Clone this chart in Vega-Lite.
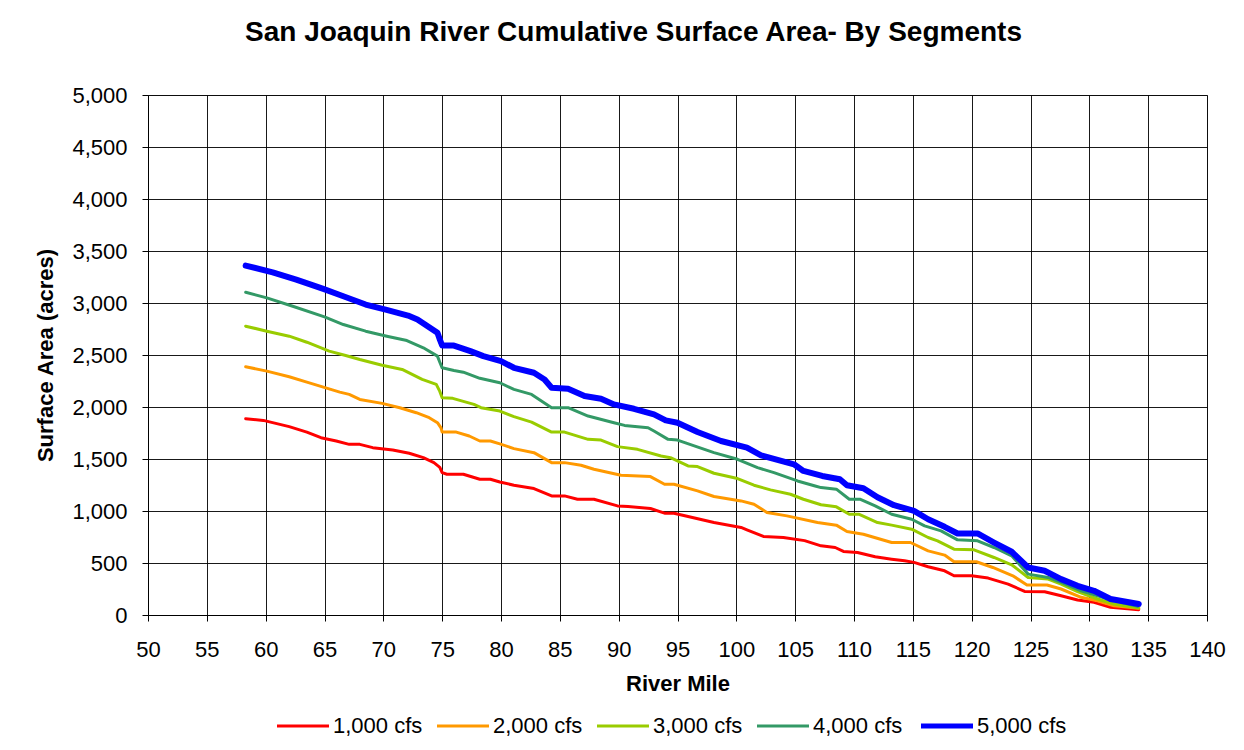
{
  "$schema": "https://vega.github.io/schema/vega-lite/v6.json",
  "width": 1059,
  "height": 520,
  "autosize": {"type": "none"},
  "padding": {"left": 148, "top": 95, "right": 37, "bottom": 135},
  "background": "white",
  "title": {
    "text": "San Joaquin River Cumulative Surface Area- By Segments",
    "font": "Liberation Sans",
    "fontSize": 28,
    "fontWeight": "bold",
    "color": "black",
    "anchor": "middle",
    "dx": -44,
    "baseline": "alphabetic",
    "offset": 15
  },
  "data": {
    "values": [
      {"flow": "1,000 cfs", "mile": 58.3, "acres": 1888},
      {"flow": "1,000 cfs", "mile": 59.8, "acres": 1871},
      {"flow": "1,000 cfs", "mile": 62.0, "acres": 1811},
      {"flow": "1,000 cfs", "mile": 63.5, "acres": 1759},
      {"flow": "1,000 cfs", "mile": 64.7, "acres": 1705},
      {"flow": "1,000 cfs", "mile": 66.0, "acres": 1673},
      {"flow": "1,000 cfs", "mile": 67.1, "acres": 1641},
      {"flow": "1,000 cfs", "mile": 68.0, "acres": 1641},
      {"flow": "1,000 cfs", "mile": 69.1, "acres": 1609},
      {"flow": "1,000 cfs", "mile": 70.8, "acres": 1587},
      {"flow": "1,000 cfs", "mile": 72.2, "acres": 1555},
      {"flow": "1,000 cfs", "mile": 73.4, "acres": 1513},
      {"flow": "1,000 cfs", "mile": 74.3, "acres": 1465},
      {"flow": "1,000 cfs", "mile": 74.8, "acres": 1420},
      {"flow": "1,000 cfs", "mile": 75.0, "acres": 1369},
      {"flow": "1,000 cfs", "mile": 75.4, "acres": 1353},
      {"flow": "1,000 cfs", "mile": 76.8, "acres": 1353},
      {"flow": "1,000 cfs", "mile": 78.2, "acres": 1305},
      {"flow": "1,000 cfs", "mile": 79.1, "acres": 1305},
      {"flow": "1,000 cfs", "mile": 79.9, "acres": 1279},
      {"flow": "1,000 cfs", "mile": 81.1, "acres": 1248},
      {"flow": "1,000 cfs", "mile": 82.8, "acres": 1216},
      {"flow": "1,000 cfs", "mile": 84.3, "acres": 1145},
      {"flow": "1,000 cfs", "mile": 85.4, "acres": 1145},
      {"flow": "1,000 cfs", "mile": 86.5, "acres": 1113},
      {"flow": "1,000 cfs", "mile": 87.9, "acres": 1113},
      {"flow": "1,000 cfs", "mile": 89.9, "acres": 1049},
      {"flow": "1,000 cfs", "mile": 90.8, "acres": 1043},
      {"flow": "1,000 cfs", "mile": 92.7, "acres": 1024},
      {"flow": "1,000 cfs", "mile": 93.9, "acres": 979},
      {"flow": "1,000 cfs", "mile": 94.7, "acres": 979},
      {"flow": "1,000 cfs", "mile": 95.9, "acres": 947},
      {"flow": "1,000 cfs", "mile": 98.1, "acres": 889},
      {"flow": "1,000 cfs", "mile": 100.4, "acres": 842},
      {"flow": "1,000 cfs", "mile": 100.9, "acres": 819},
      {"flow": "1,000 cfs", "mile": 102.3, "acres": 755},
      {"flow": "1,000 cfs", "mile": 104.0, "acres": 746},
      {"flow": "1,000 cfs", "mile": 105.8, "acres": 715},
      {"flow": "1,000 cfs", "mile": 107.2, "acres": 665},
      {"flow": "1,000 cfs", "mile": 108.4, "acres": 649},
      {"flow": "1,000 cfs", "mile": 109.1, "acres": 611},
      {"flow": "1,000 cfs", "mile": 110.3, "acres": 601},
      {"flow": "1,000 cfs", "mile": 111.8, "acres": 560},
      {"flow": "1,000 cfs", "mile": 113.2, "acres": 537},
      {"flow": "1,000 cfs", "mile": 114.3, "acres": 521},
      {"flow": "1,000 cfs", "mile": 115.1, "acres": 506},
      {"flow": "1,000 cfs", "mile": 116.3, "acres": 464},
      {"flow": "1,000 cfs", "mile": 117.7, "acres": 425},
      {"flow": "1,000 cfs", "mile": 118.5, "acres": 377},
      {"flow": "1,000 cfs", "mile": 120.0, "acres": 377},
      {"flow": "1,000 cfs", "mile": 121.4, "acres": 355},
      {"flow": "1,000 cfs", "mile": 123.1, "acres": 297},
      {"flow": "1,000 cfs", "mile": 124.5, "acres": 227},
      {"flow": "1,000 cfs", "mile": 126.2, "acres": 224},
      {"flow": "1,000 cfs", "mile": 127.6, "acres": 185},
      {"flow": "1,000 cfs", "mile": 129.0, "acres": 144},
      {"flow": "1,000 cfs", "mile": 130.4, "acres": 122},
      {"flow": "1,000 cfs", "mile": 131.8, "acres": 74},
      {"flow": "1,000 cfs", "mile": 134.2, "acres": 51},

      {"flow": "2,000 cfs", "mile": 58.3, "acres": 2387},
      {"flow": "2,000 cfs", "mile": 60.1, "acres": 2345},
      {"flow": "2,000 cfs", "mile": 62.0, "acres": 2291},
      {"flow": "2,000 cfs", "mile": 63.5, "acres": 2239},
      {"flow": "2,000 cfs", "mile": 64.9, "acres": 2191},
      {"flow": "2,000 cfs", "mile": 66.3, "acres": 2143},
      {"flow": "2,000 cfs", "mile": 67.1, "acres": 2121},
      {"flow": "2,000 cfs", "mile": 68.0, "acres": 2073},
      {"flow": "2,000 cfs", "mile": 69.9, "acres": 2035},
      {"flow": "2,000 cfs", "mile": 71.4, "acres": 1993},
      {"flow": "2,000 cfs", "mile": 72.8, "acres": 1945},
      {"flow": "2,000 cfs", "mile": 73.9, "acres": 1897},
      {"flow": "2,000 cfs", "mile": 74.6, "acres": 1849},
      {"flow": "2,000 cfs", "mile": 74.9, "acres": 1800},
      {"flow": "2,000 cfs", "mile": 75.0, "acres": 1759},
      {"flow": "2,000 cfs", "mile": 76.2, "acres": 1759},
      {"flow": "2,000 cfs", "mile": 77.3, "acres": 1721},
      {"flow": "2,000 cfs", "mile": 78.2, "acres": 1673},
      {"flow": "2,000 cfs", "mile": 79.1, "acres": 1673},
      {"flow": "2,000 cfs", "mile": 79.9, "acres": 1645},
      {"flow": "2,000 cfs", "mile": 81.1, "acres": 1600},
      {"flow": "2,000 cfs", "mile": 82.8, "acres": 1561},
      {"flow": "2,000 cfs", "mile": 84.3, "acres": 1465},
      {"flow": "2,000 cfs", "mile": 85.4, "acres": 1465},
      {"flow": "2,000 cfs", "mile": 86.8, "acres": 1440},
      {"flow": "2,000 cfs", "mile": 87.9, "acres": 1401},
      {"flow": "2,000 cfs", "mile": 90.2, "acres": 1344},
      {"flow": "2,000 cfs", "mile": 92.7, "acres": 1331},
      {"flow": "2,000 cfs", "mile": 93.9, "acres": 1257},
      {"flow": "2,000 cfs", "mile": 94.7, "acres": 1257},
      {"flow": "2,000 cfs", "mile": 96.7, "acres": 1193},
      {"flow": "2,000 cfs", "mile": 98.1, "acres": 1139},
      {"flow": "2,000 cfs", "mile": 100.4, "acres": 1097},
      {"flow": "2,000 cfs", "mile": 101.5, "acres": 1065},
      {"flow": "2,000 cfs", "mile": 102.6, "acres": 986},
      {"flow": "2,000 cfs", "mile": 104.3, "acres": 953},
      {"flow": "2,000 cfs", "mile": 106.9, "acres": 889},
      {"flow": "2,000 cfs", "mile": 108.5, "acres": 864},
      {"flow": "2,000 cfs", "mile": 109.4, "acres": 803},
      {"flow": "2,000 cfs", "mile": 110.8, "acres": 777},
      {"flow": "2,000 cfs", "mile": 113.2, "acres": 697},
      {"flow": "2,000 cfs", "mile": 114.8, "acres": 697},
      {"flow": "2,000 cfs", "mile": 116.3, "acres": 617},
      {"flow": "2,000 cfs", "mile": 117.7, "acres": 576},
      {"flow": "2,000 cfs", "mile": 118.5, "acres": 512},
      {"flow": "2,000 cfs", "mile": 120.4, "acres": 512},
      {"flow": "2,000 cfs", "mile": 121.8, "acres": 457},
      {"flow": "2,000 cfs", "mile": 123.5, "acres": 377},
      {"flow": "2,000 cfs", "mile": 124.7, "acres": 288},
      {"flow": "2,000 cfs", "mile": 126.4, "acres": 288},
      {"flow": "2,000 cfs", "mile": 127.6, "acres": 250},
      {"flow": "2,000 cfs", "mile": 129.3, "acres": 170},
      {"flow": "2,000 cfs", "mile": 130.7, "acres": 137},
      {"flow": "2,000 cfs", "mile": 132.1, "acres": 89},
      {"flow": "2,000 cfs", "mile": 134.2, "acres": 64},

      {"flow": "3,000 cfs", "mile": 58.3, "acres": 2777},
      {"flow": "3,000 cfs", "mile": 60.1, "acres": 2729},
      {"flow": "3,000 cfs", "mile": 62.0, "acres": 2681},
      {"flow": "3,000 cfs", "mile": 63.5, "acres": 2623},
      {"flow": "3,000 cfs", "mile": 65.4, "acres": 2537},
      {"flow": "3,000 cfs", "mile": 66.8, "acres": 2495},
      {"flow": "3,000 cfs", "mile": 68.0, "acres": 2457},
      {"flow": "3,000 cfs", "mile": 69.9, "acres": 2402},
      {"flow": "3,000 cfs", "mile": 71.6, "acres": 2361},
      {"flow": "3,000 cfs", "mile": 73.3, "acres": 2265},
      {"flow": "3,000 cfs", "mile": 74.5, "acres": 2217},
      {"flow": "3,000 cfs", "mile": 74.8, "acres": 2150},
      {"flow": "3,000 cfs", "mile": 75.0, "acres": 2089},
      {"flow": "3,000 cfs", "mile": 75.9, "acres": 2083},
      {"flow": "3,000 cfs", "mile": 77.7, "acres": 2025},
      {"flow": "3,000 cfs", "mile": 78.3, "acres": 1993},
      {"flow": "3,000 cfs", "mile": 79.9, "acres": 1961},
      {"flow": "3,000 cfs", "mile": 81.1, "acres": 1907},
      {"flow": "3,000 cfs", "mile": 82.6, "acres": 1855},
      {"flow": "3,000 cfs", "mile": 84.3, "acres": 1759},
      {"flow": "3,000 cfs", "mile": 85.4, "acres": 1759},
      {"flow": "3,000 cfs", "mile": 87.4, "acres": 1689},
      {"flow": "3,000 cfs", "mile": 88.5, "acres": 1682},
      {"flow": "3,000 cfs", "mile": 89.9, "acres": 1619},
      {"flow": "3,000 cfs", "mile": 91.6, "acres": 1593},
      {"flow": "3,000 cfs", "mile": 93.6, "acres": 1529},
      {"flow": "3,000 cfs", "mile": 94.4, "acres": 1513},
      {"flow": "3,000 cfs", "mile": 95.9, "acres": 1433},
      {"flow": "3,000 cfs", "mile": 96.7, "acres": 1427},
      {"flow": "3,000 cfs", "mile": 98.1, "acres": 1363},
      {"flow": "3,000 cfs", "mile": 100.1, "acres": 1312},
      {"flow": "3,000 cfs", "mile": 101.5, "acres": 1248},
      {"flow": "3,000 cfs", "mile": 102.9, "acres": 1203},
      {"flow": "3,000 cfs", "mile": 104.6, "acres": 1161},
      {"flow": "3,000 cfs", "mile": 105.7, "acres": 1113},
      {"flow": "3,000 cfs", "mile": 107.2, "acres": 1060},
      {"flow": "3,000 cfs", "mile": 108.5, "acres": 1040},
      {"flow": "3,000 cfs", "mile": 109.6, "acres": 969},
      {"flow": "3,000 cfs", "mile": 110.4, "acres": 969},
      {"flow": "3,000 cfs", "mile": 112.0, "acres": 889},
      {"flow": "3,000 cfs", "mile": 113.2, "acres": 864},
      {"flow": "3,000 cfs", "mile": 114.9, "acres": 825},
      {"flow": "3,000 cfs", "mile": 116.3, "acres": 745},
      {"flow": "3,000 cfs", "mile": 117.1, "acres": 713},
      {"flow": "3,000 cfs", "mile": 118.5, "acres": 633},
      {"flow": "3,000 cfs", "mile": 120.2, "acres": 627},
      {"flow": "3,000 cfs", "mile": 121.9, "acres": 553},
      {"flow": "3,000 cfs", "mile": 123.4, "acres": 483},
      {"flow": "3,000 cfs", "mile": 124.8, "acres": 361},
      {"flow": "3,000 cfs", "mile": 126.5, "acres": 345},
      {"flow": "3,000 cfs", "mile": 127.6, "acres": 297},
      {"flow": "3,000 cfs", "mile": 129.0, "acres": 224},
      {"flow": "3,000 cfs", "mile": 130.7, "acres": 154},
      {"flow": "3,000 cfs", "mile": 132.1, "acres": 106},
      {"flow": "3,000 cfs", "mile": 134.2, "acres": 67},

      {"flow": "4,000 cfs", "mile": 58.3, "acres": 3103},
      {"flow": "4,000 cfs", "mile": 60.1, "acres": 3049},
      {"flow": "4,000 cfs", "mile": 62.3, "acres": 2969},
      {"flow": "4,000 cfs", "mile": 65.0, "acres": 2867},
      {"flow": "4,000 cfs", "mile": 66.6, "acres": 2793},
      {"flow": "4,000 cfs", "mile": 68.5, "acres": 2729},
      {"flow": "4,000 cfs", "mile": 70.3, "acres": 2681},
      {"flow": "4,000 cfs", "mile": 72.0, "acres": 2639},
      {"flow": "4,000 cfs", "mile": 73.4, "acres": 2569},
      {"flow": "4,000 cfs", "mile": 74.6, "acres": 2489},
      {"flow": "4,000 cfs", "mile": 74.8, "acres": 2430},
      {"flow": "4,000 cfs", "mile": 75.0, "acres": 2377},
      {"flow": "4,000 cfs", "mile": 76.0, "acres": 2351},
      {"flow": "4,000 cfs", "mile": 76.8, "acres": 2335},
      {"flow": "4,000 cfs", "mile": 78.2, "acres": 2276},
      {"flow": "4,000 cfs", "mile": 79.9, "acres": 2233},
      {"flow": "4,000 cfs", "mile": 81.1, "acres": 2169},
      {"flow": "4,000 cfs", "mile": 82.6, "acres": 2121},
      {"flow": "4,000 cfs", "mile": 84.3, "acres": 1993},
      {"flow": "4,000 cfs", "mile": 85.7, "acres": 1993},
      {"flow": "4,000 cfs", "mile": 87.4, "acres": 1913},
      {"flow": "4,000 cfs", "mile": 89.6, "acres": 1849},
      {"flow": "4,000 cfs", "mile": 90.5, "acres": 1823},
      {"flow": "4,000 cfs", "mile": 92.5, "acres": 1801},
      {"flow": "4,000 cfs", "mile": 93.0, "acres": 1769},
      {"flow": "4,000 cfs", "mile": 94.2, "acres": 1689},
      {"flow": "4,000 cfs", "mile": 95.0, "acres": 1682},
      {"flow": "4,000 cfs", "mile": 98.1, "acres": 1561},
      {"flow": "4,000 cfs", "mile": 100.1, "acres": 1497},
      {"flow": "4,000 cfs", "mile": 101.8, "acres": 1417},
      {"flow": "4,000 cfs", "mile": 103.2, "acres": 1369},
      {"flow": "4,000 cfs", "mile": 105.2, "acres": 1289},
      {"flow": "4,000 cfs", "mile": 106.7, "acres": 1241},
      {"flow": "4,000 cfs", "mile": 107.2, "acres": 1225},
      {"flow": "4,000 cfs", "mile": 108.5, "acres": 1210},
      {"flow": "4,000 cfs", "mile": 109.6, "acres": 1113},
      {"flow": "4,000 cfs", "mile": 110.5, "acres": 1113},
      {"flow": "4,000 cfs", "mile": 111.8, "acres": 1049},
      {"flow": "4,000 cfs", "mile": 113.2, "acres": 969},
      {"flow": "4,000 cfs", "mile": 114.9, "acres": 921},
      {"flow": "4,000 cfs", "mile": 116.0, "acres": 857},
      {"flow": "4,000 cfs", "mile": 117.4, "acres": 809},
      {"flow": "4,000 cfs", "mile": 118.8, "acres": 723},
      {"flow": "4,000 cfs", "mile": 120.5, "acres": 713},
      {"flow": "4,000 cfs", "mile": 121.9, "acres": 649},
      {"flow": "4,000 cfs", "mile": 123.4, "acres": 569},
      {"flow": "4,000 cfs", "mile": 124.8, "acres": 393},
      {"flow": "4,000 cfs", "mile": 126.5, "acres": 361},
      {"flow": "4,000 cfs", "mile": 127.6, "acres": 313},
      {"flow": "4,000 cfs", "mile": 129.3, "acres": 233},
      {"flow": "4,000 cfs", "mile": 130.7, "acres": 185},
      {"flow": "4,000 cfs", "mile": 132.1, "acres": 137},
      {"flow": "4,000 cfs", "mile": 134.1, "acres": 83},

      {"flow": "5,000 cfs", "mile": 58.3, "acres": 3359},
      {"flow": "5,000 cfs", "mile": 60.6, "acres": 3295},
      {"flow": "5,000 cfs", "mile": 62.6, "acres": 3225},
      {"flow": "5,000 cfs", "mile": 64.9, "acres": 3135},
      {"flow": "5,000 cfs", "mile": 66.6, "acres": 3065},
      {"flow": "5,000 cfs", "mile": 68.5, "acres": 2985},
      {"flow": "5,000 cfs", "mile": 70.2, "acres": 2937},
      {"flow": "5,000 cfs", "mile": 72.1, "acres": 2879},
      {"flow": "5,000 cfs", "mile": 72.9, "acres": 2841},
      {"flow": "5,000 cfs", "mile": 74.6, "acres": 2713},
      {"flow": "5,000 cfs", "mile": 74.8, "acres": 2650},
      {"flow": "5,000 cfs", "mile": 75.0, "acres": 2591},
      {"flow": "5,000 cfs", "mile": 76.0, "acres": 2591},
      {"flow": "5,000 cfs", "mile": 77.4, "acres": 2537},
      {"flow": "5,000 cfs", "mile": 78.5, "acres": 2489},
      {"flow": "5,000 cfs", "mile": 80.0, "acres": 2441},
      {"flow": "5,000 cfs", "mile": 81.1, "acres": 2377},
      {"flow": "5,000 cfs", "mile": 82.8, "acres": 2329},
      {"flow": "5,000 cfs", "mile": 83.7, "acres": 2265},
      {"flow": "5,000 cfs", "mile": 84.3, "acres": 2185},
      {"flow": "5,000 cfs", "mile": 85.7, "acres": 2175},
      {"flow": "5,000 cfs", "mile": 87.1, "acres": 2105},
      {"flow": "5,000 cfs", "mile": 88.5, "acres": 2080},
      {"flow": "5,000 cfs", "mile": 89.6, "acres": 2025},
      {"flow": "5,000 cfs", "mile": 91.3, "acres": 1983},
      {"flow": "5,000 cfs", "mile": 93.0, "acres": 1929},
      {"flow": "5,000 cfs", "mile": 94.0, "acres": 1871},
      {"flow": "5,000 cfs", "mile": 95.0, "acres": 1849},
      {"flow": "5,000 cfs", "mile": 96.7, "acres": 1759},
      {"flow": "5,000 cfs", "mile": 98.7, "acres": 1673},
      {"flow": "5,000 cfs", "mile": 100.9, "acres": 1609},
      {"flow": "5,000 cfs", "mile": 102.1, "acres": 1535},
      {"flow": "5,000 cfs", "mile": 104.9, "acres": 1449},
      {"flow": "5,000 cfs", "mile": 105.7, "acres": 1385},
      {"flow": "5,000 cfs", "mile": 107.3, "acres": 1337},
      {"flow": "5,000 cfs", "mile": 108.8, "acres": 1305},
      {"flow": "5,000 cfs", "mile": 109.4, "acres": 1248},
      {"flow": "5,000 cfs", "mile": 110.8, "acres": 1219},
      {"flow": "5,000 cfs", "mile": 112.0, "acres": 1132},
      {"flow": "5,000 cfs", "mile": 113.4, "acres": 1056},
      {"flow": "5,000 cfs", "mile": 115.1, "acres": 1001},
      {"flow": "5,000 cfs", "mile": 116.3, "acres": 921},
      {"flow": "5,000 cfs", "mile": 117.7, "acres": 848},
      {"flow": "5,000 cfs", "mile": 118.8, "acres": 784},
      {"flow": "5,000 cfs", "mile": 120.5, "acres": 784},
      {"flow": "5,000 cfs", "mile": 121.9, "acres": 697},
      {"flow": "5,000 cfs", "mile": 123.4, "acres": 608},
      {"flow": "5,000 cfs", "mile": 124.8, "acres": 457},
      {"flow": "5,000 cfs", "mile": 126.2, "acres": 425},
      {"flow": "5,000 cfs", "mile": 127.6, "acres": 345},
      {"flow": "5,000 cfs", "mile": 129.0, "acres": 281},
      {"flow": "5,000 cfs", "mile": 130.4, "acres": 233},
      {"flow": "5,000 cfs", "mile": 131.8, "acres": 154},
      {"flow": "5,000 cfs", "mile": 134.2, "acres": 106}
    ]
  },
  "mark": {"type": "line", "strokeJoin": "round", "strokeCap": "round"},
  "encoding": {
    "x": {
      "field": "mile",
      "type": "quantitative",
      "scale": {"domain": [50, 140], "nice": false, "zero": false},
      "axis": {
        "values": [50, 55, 60, 65, 70, 75, 80, 85, 90, 95, 100, 105, 110, 115, 120, 125, 130, 135, 140],
        "title": "River Mile",
        "titlePadding": 13,
        "labelPadding": 18,
        "labelFlush": false,
        "labelOverlap": false
      }
    },
    "y": {
      "field": "acres",
      "type": "quantitative",
      "scale": {"domain": [0, 5000], "nice": false},
      "axis": {
        "values": [0, 500, 1000, 1500, 2000, 2500, 3000, 3500, 4000, 4500, 5000],
        "format": ",.0f",
        "title": "Surface Area (acres)",
        "titlePadding": 14,
        "labelPadding": 15,
        "labelFlush": false,
        "labelOverlap": false
      }
    },
    "color": {
      "field": "flow",
      "type": "nominal",
      "scale": {
        "domain": ["1,000 cfs", "2,000 cfs", "3,000 cfs", "4,000 cfs", "5,000 cfs"],
        "range": ["#FF0000", "#FF9900", "#99CC00", "#339966", "#0000FF"]
      },
      "legend": {
        "orient": "none",
        "legendX": 144,
        "legendY": 620,
        "direction": "horizontal",
        "title": null,
        "symbolType": "stroke",
        "symbolSize": 2704,
        "symbolStrokeWidth": 3,
        "labelFontSize": 22,
        "labelFont": "Liberation Sans",
        "labelColor": "black",
        "labelOffset": 19,
        "columnPadding": 8,
        "padding": 0,
        "encode": {
          "symbols": {
            "update": {
              "strokeWidth": {"signal": "datum.value === '5,000 cfs' ? 5 : 3"}
            }
          }
        }
      }
    },
    "strokeWidth": {
      "condition": {"test": "datum.flow === '5,000 cfs'", "value": 6},
      "value": 3
    }
  },
  "config": {
    "font": "Liberation Sans",
    "view": {"stroke": "#808080", "strokeWidth": 1},
    "axis": {
      "labelFont": "Liberation Sans",
      "labelFontSize": 22,
      "labelColor": "black",
      "titleFont": "Liberation Sans",
      "titleFontSize": 22,
      "titleFontWeight": "bold",
      "titleColor": "black",
      "domainColor": "black",
      "tickColor": "black",
      "tickSize": 6,
      "gridColor": "black",
      "gridOpacity": 0.9,
      "grid": true
    }
  }
}
